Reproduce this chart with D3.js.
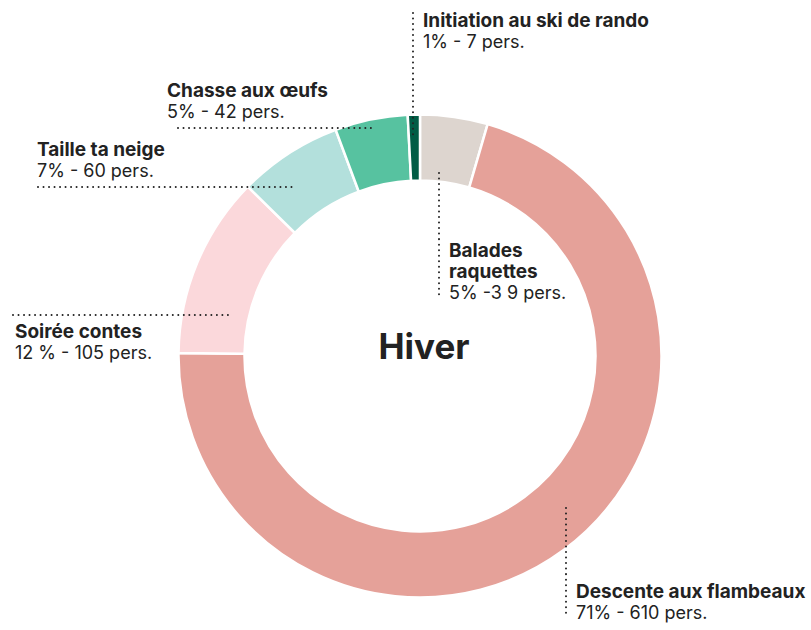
<!DOCTYPE html>
<html><head><meta charset="utf-8">
<script src="https://cdn.jsdelivr.net/npm/d3@7"></script>
<style>body{margin:0;background:#fff}svg{display:block}</style>
</head><body>
<script>
const categories = ["Balades raquettes","Descente aux flambeaux","Soirée contes","Taille ta neige","Chasse aux œufs","Initiation au ski de rando"];
const values = [39, 610, 105, 60, 42, 7];
const colors = ["#ddd5cf","#e5a199","#fbd8db","#b3e0dc","#57c2a0","#015c45"];
const titleLines = [["Balades","raquettes"],["Descente aux flambeaux"],["Soirée contes"],["Taille ta neige"],["Chasse aux œufs"],["Initiation au ski de rando"]];
const subLabels = ["5% -3 9 pers.","71% - 610 pers.","12 % - 105 pers.","7% - 60 pers.","5% - 42 pers.","1% - 7 pers."];
const centerLabel = "Hiver";

const W=811,H=630,cx=420,cy=356;
const svg=d3.select("body").append("svg").attr("width",W).attr("height",H);
const g=svg.append("g").attr("transform",`translate(${cx},${cy})`);
const pie=d3.pie().sort(null).value(d=>d)(values);
const arc=d3.arc().innerRadius(175.5).outerRadius(241.5);
g.selectAll("path").data(pie).join("path").attr("d",arc)
 .attr("fill",(d,i)=>colors[i]).attr("stroke","#fff").attr("stroke-width",2.5);

g.append("text").attr("x",4).attr("y",3).attr("text-anchor","middle")
 .attr("font-family","Inter, sans-serif").attr("font-weight",700).attr("font-size",35)
 .attr("fill","#222").text(centerLabel);

const layout=[
 {line:[439,173,439,296], tx:449, ty:257},
 {line:[566,508,566,618], tx:576, ty:598},
 {line:[13,315,229,315], tx:15, ty:338},
 {line:[38,187,293,187], tx:37, ty:156},
 {line:[178,128,373,128], tx:167, ty:97},
 {line:[413,13,413,136], tx:423, ty:27}
];
const lh=21;
layout.forEach((L,i)=>{
  svg.append("line").attr("x1",L.line[0]).attr("y1",L.line[1]).attr("x2",L.line[2]).attr("y2",L.line[3])
   .attr("stroke","#222").attr("stroke-width",2).attr("stroke-dasharray","0.01 5.5").attr("stroke-linecap","round");
  const t=svg.append("text").attr("font-family","Inter, sans-serif").attr("fill","#222");
  titleLines[i].forEach((s,k)=>t.append("tspan").attr("x",L.tx).attr("y",L.ty+k*lh).attr("font-weight",700).attr("font-size",19).text(s));
  t.append("tspan").attr("x",L.tx).attr("y",L.ty+titleLines[i].length*lh).attr("font-weight",400).attr("font-size",18).text(subLabels[i]);
});
</script>
</body></html>
